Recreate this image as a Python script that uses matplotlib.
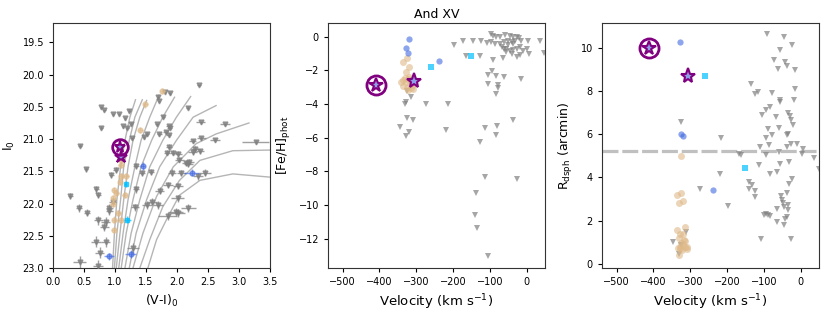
import matplotlib
matplotlib.use("Agg")
import matplotlib.pyplot as plt
import numpy as np

# ---- panel 1: CMD ----
# isochrones: (V-I)_0 at fixed I_0 levels, plus top point
iso_I = [23.0, 22.46, 21.94, 21.43, 21.02, 20.66]
iso_vi = [
    [0.96, 0.99, 1.03, 1.09, 1.16, 1.24, 1.33],
    [0.99, 1.03, 1.09, 1.14, 1.23, 1.32, 1.44],
    [1.02, 1.08, 1.14, 1.21, 1.29, 1.40, 1.51],
    [1.06, 1.13, 1.21, 1.32, 1.42, 1.56, 1.71],
    [1.10, 1.18, 1.29, 1.42, 1.59, 1.77, 1.96],
    [1.16, 1.26, 1.40, 1.56, 1.77, 1.99, 2.22],
    [1.23, 1.34, 1.51, 1.72, 1.99, 2.26, 2.63],
]
iso_top_I = [20.39, 20.39, 20.40, 20.32, 20.35, 20.34, 20.48]
# the three reddest isochrones bend over, so given as full point lists
red_iso_vi = [
    [1.29, 1.45, 1.67, 1.94, 2.31, 2.63, 3.16],
    [1.40, 1.56, 1.77, 2.04, 2.37, 2.90, 3.50],
    [1.53, 1.67, 1.83, 2.04, 2.37, 2.90, 3.50],
]
red_iso_I = [
    [23.0, 22.46, 21.89, 21.43, 21.07, 20.92, 20.75],
    [23.0, 22.56, 22.05, 21.64, 21.33, 21.18, 21.17],
    [23.0, 22.56, 22.25, 21.87, 21.64, 21.54, 21.59],
]

nm_vi = [2.35, 1.80, 1.88, 1.69, 1.71, 0.78, 0.83, 0.97, 1.06, 1.23, 1.16, 1.26, 0.78, 1.13, 1.20,
         2.17, 1.78, 1.67, 1.87, 1.88, 2.38, 2.77, 1.46, 1.52, 1.27, 1.71, 1.82, 1.87, 0.43, 2.25,
         2.39, 2.61, 3.27, 1.87, 1.84, 1.94, 2.02, 2.25, 2.37, 2.29, 2.04, 2.15, 2.20, 2.18, 0.53,
         1.34, 1.44, 1.58, 1.92, 2.07, 2.34, 2.45, 0.94, 1.01, 1.34, 1.72, 1.85, 2.01, 0.70, 0.73,
         0.28, 0.96, 1.51, 1.59, 1.69, 2.01, 0.91, 0.91, 1.32, 0.42, 0.55, 2.18, 1.98, 2.01, 1.85,
         0.73, 0.85, 0.83, 0.70, 0.85, 0.75, 1.29, 0.43, 0.73]
nm_I = [20.16, 20.27, 20.29, 20.35, 20.41, 20.50, 20.55, 20.61, 20.61, 20.56, 20.68, 20.76, 20.82, 20.80, 20.83,
        20.51, 20.66, 20.77, 20.80, 20.83, 20.74, 20.77, 20.97, 20.92, 20.99, 20.92, 20.89, 20.94, 21.10, 21.03,
        20.98, 21.01, 21.05, 21.12, 21.21, 21.21, 21.23, 21.20, 21.19, 21.15, 21.32, 21.37, 21.35, 21.39, 21.47,
        21.42, 21.53, 21.51, 21.52, 21.53, 21.58, 21.52, 21.56, 21.48, 21.78, 21.80, 21.71, 21.73, 21.78, 21.87,
        21.88, 21.97, 22.02, 21.97, 22.02, 21.92, 22.07, 22.12, 22.06, 22.07, 22.14, 22.07, 22.13, 22.15, 22.19,
        22.26, 22.28, 22.36, 22.59, 22.60, 22.76, 22.69, 22.91, 22.97]
nm_vi_err = [0.03, 0.02, 0.02, 0.02, 0.02, 0.02, 0.02, 0.02, 0.02, 0.02, 0.02, 0.02, 0.02, 0.02, 0.02,
             0.03, 0.03, 0.03, 0.04, 0.04, 0.07, 0.08, 0.03, 0.03, 0.03, 0.04, 0.04, 0.04, 0.03, 0.06,
             0.07, 0.08, 0.22, 0.05, 0.05, 0.06, 0.06, 0.08, 0.07, 0.07, 0.07, 0.07, 0.07, 0.07, 0.03,
             0.05, 0.05, 0.05, 0.07, 0.07, 0.08, 0.10, 0.04, 0.04, 0.05, 0.07, 0.08, 0.08, 0.04, 0.04,
             0.04, 0.05, 0.08, 0.08, 0.08, 0.10, 0.05, 0.05, 0.07, 0.05, 0.05, 0.12, 0.12, 0.12, 0.15,
             0.07, 0.07, 0.07, 0.08, 0.07, 0.08, 0.10, 0.10, 0.08]
nm_I_err = [0.02] * 22 + [0.03] * 11 + [0.04] * 12 + [0.05] * 16 + [0.06] * 14 + [0.07] * 3 + [0.08] * 4 + [0.09] * 2

rgb_vi = [1.76, 1.49, 1.41, 1.09, 1.09, 1.10, 1.08, 1.18, 0.99, 1.02, 0.97, 0.96, 1.16, 1.05, 1.09, 0.98, 0.99]
rgb_I = [20.25, 20.46, 20.86, 21.32, 21.40, 21.58, 21.66, 21.58, 21.79, 21.84, 21.92, 22.00, 21.87, 22.15, 22.25, 22.41, 22.25]
blue_vi = [1.45, 2.24, 0.91, 1.25]
blue_I = [21.42, 21.52, 22.82, 22.78]
blue_vi_err = [0.04, 0.12, 0.08, 0.09]
cyan_vi = [1.17, 1.20]
cyan_I = [21.70, 22.25]
cyan_vi_err = [0.03, 0.06]
star_vi, star_I = 1.09, 21.28
cstar_vi, cstar_I = 1.08, 21.12

# ---- panel 2: [Fe/H] vs velocity ----
nm_v2 = [-98, -91, -82, -71, -59, -45, -36, -27, -20, -14, 5, 36, 48,
         -123, -109, -98, -86, -73, -62, -50, -41, -36, -32, -50, -68, -62, -55, -45, -36, -27, -18, -11, 0, 7,
         -18, -27, -41, -55, -65, -91, -127, -165, -173, -198, -147,
         -105, -94, -82, -61, -105, -77, -79, -84, -16,
         -273, -215, -332, -327, -315, -325, -345, -325, -309, -329, -320, -220, -113, -80, -82, -38, -127,
         -114, -25, -138, -139, -134, -105]
nm_feh = [0.16, 0.06, 0.0, -0.04, 0.10, 0.06, -0.04, 0.0, -0.08, -0.28, -0.28, -0.28, -0.99,
          -0.28, -0.40, -0.34, -0.43, -0.43, -0.34, -0.24, -0.34, -0.43, -0.24, -0.53, -0.63, -0.73, -0.73, -0.83, -0.79, -0.73, -0.63, -0.83, -0.73, -1.03,
          -1.07, -1.23, -1.03, -0.93, -1.26, -1.38, -1.13, -1.13, -0.24, -0.53, -0.24,
          -2.31, -2.02, -2.37, -2.41, -2.81, -2.85, -3.04, -3.44, -2.55,
          -3.99, -4.03, -3.99, -3.89, -3.60, -3.24, -5.38, -4.82, -4.98, -5.93, -5.67, -5.57, -5.41, -5.34, -5.87, -4.98, -6.26,
          -8.34, -8.48, -9.29, -10.61, -11.40, -13.04]
rgb_v2 = [-325, -335, -321, -329, -332, -323, -329, -318, -335, -325, -314, -309, -320, -335, -314, -341, -323, -309]
rgb_feh = [-1.26, -1.52, -1.78, -2.11, -2.45, -2.51, -2.71, -2.81, -2.91, -3.04, -3.06, -3.10, -2.41, -2.61, -2.61, -2.71, -3.20, -2.90]
blue_v2 = [-320, -327, -323, -238]
blue_feh = [-0.14, -0.69, -0.97, -1.48]
cyan_v2 = [-259, -152]
cyan_feh = [-1.82, -1.17]
star_v, star_feh = -305, -2.65
cstar_v, cstar_feh = -409, -2.90

# ---- panel 3: R_dsph vs velocity ----
nm_v3 = [-91, -44, -23, -56, -73, -41, -38, -61, -14, -135, -125, -115, -79, -15, -18, -56, -56, -82, -94, -105,
         -34, -29, -66, -25, -20, -59, -89, -325, -36, -34, -95, -77, -216, -86, -109, -26, -9, -38, 7, 4,
         -59, -95, -168, -161, 36, 50, -32, -56, -114, -65, -82, -23, -32, -139, -220, -132, -139, -273, -125, -38,
         -53, -123, -50, -47, -34, -44, -64, -198, -35, -95, -89, -100, -82, -38, -41, -65, -44, -107, -25, -311,
         -347, -325, -330]
nm_r = [10.66, 10.51, 10.15, 9.92, 9.43, 9.35, 9.15, 9.00, 8.96, 8.35, 7.88, 7.96, 7.91, 8.11, 7.60, 7.57, 7.50, 7.26, 7.11, 6.88,
        6.99, 6.83, 6.80, 6.65, 6.41, 6.31, 6.26, 6.57, 5.95, 6.03, 5.84, 5.95, 5.84, 5.49, 5.41, 5.56, 5.53, 5.41, 5.33, 5.10,
        5.18, 5.02, 5.10, 5.02, 4.91, 4.40, 4.71, 4.60, 4.56, 4.25, 4.17, 3.94, 3.71, 3.79, 4.17, 3.63, 3.48, 3.48, 3.37, 3.28,
        3.12, 3.09, 2.94, 2.83, 2.74, 2.63, 2.55, 2.66, 2.47, 2.32, 2.24, 2.24, 2.19, 2.16, 2.09, 1.93, 1.78, 1.16, 1.13, 1.47,
        1.00, 0.85, 0.43]
rgb_v3 = [-326, -336, -325, -330, -321, -315, -335, -327, -321, -330, -318, -325, -334, -327, -315, -309, -323, -330, -321, -314, -327, -309]
rgb_r = [4.98, 3.17, 3.28, 2.81, 2.89, 1.70, 1.55, 1.39, 1.39, 1.21, 1.08, 0.97, 0.74, 0.77, 0.77, 0.77, 0.62, 0.39, 0.90, 1.05, 0.70, 0.70]
blue_v3 = [-327, -325, -321, -239]
blue_r = [10.28, 6.03, 5.90, 3.40]
cyan_v3 = [-261, -152]
cyan_r = [8.69, 4.44]
star_v3, star_r = -305, 8.69
cstar_v3, cstar_r = -411, 10.0
r_tidal = 5.2

grey = "gray"
tan = "burlywood"
blue = "royalblue"
cyan = "deepskyblue"
purple = "purple"
starfill = "#8fa0e8"

plt.rcParams["font.family"] = "DejaVu Sans"
fig = plt.figure(figsize=(8.3, 3.12), dpi=100)
ax1 = fig.add_axes([0.0639, 0.141, 0.2614, 0.785])
ax2 = fig.add_axes([0.3952, 0.141, 0.2614, 0.785])
ax3 = fig.add_axes([0.7253, 0.141, 0.2614, 0.785])


def special(ax, x, y, cx, cy, ms):
    ax.plot(x, y, "*", ms=ms, mfc=starfill, mec=purple, mew=1.5, zorder=6)
    ax.plot(cx, cy, "o", ms=ms * 1.25, mfc="none", mec=purple, mew=2, zorder=6)
    ax.plot(cx, cy, "*", ms=ms * 0.9, mfc=starfill, mec=purple, mew=1.5, zorder=6)


# panel 1
for vi, top in zip(iso_vi, iso_top_I):
    ax1.plot(vi, iso_I + [top], color="#b5b5b5", lw=1, zorder=1)
for vi, ii in zip(red_iso_vi, red_iso_I):
    ax1.plot(vi, ii, color="#b5b5b5", lw=1, zorder=1)
ax1.errorbar(nm_vi, nm_I, xerr=nm_vi_err, yerr=nm_I_err, fmt="v", color=grey, ms=3.5,
             alpha=0.75, elinewidth=1, zorder=3)
ax1.errorbar(rgb_vi, rgb_I, xerr=0.04, yerr=0.05, fmt="o", color=tan, ms=3.5,
             alpha=0.6, elinewidth=1, zorder=4)
ax1.errorbar(blue_vi, blue_I, xerr=blue_vi_err, yerr=0.06, fmt="o", color=blue, ms=3.5,
             alpha=0.6, elinewidth=1, zorder=4)
ax1.errorbar(cyan_vi, cyan_I, xerr=cyan_vi_err, yerr=0.05, fmt="s", color=cyan, ms=3.5,
             alpha=0.7, elinewidth=1, zorder=4)
special(ax1, star_vi, star_I, cstar_vi, cstar_I, 9)
ax1.set_xlim(0, 3.5)
ax1.set_ylim(23.0, 19.2)
ax1.set_yticks(np.arange(19.5, 23.01, 0.5))
ax1.set_xlabel("(V-I)$_0$", fontsize=9)
ax1.set_ylabel("I$_0$", fontsize=9)

# panel 2
ax2.plot(nm_v2, nm_feh, "v", color=grey, ms=4.5, alpha=0.7, mew=0)
ax2.plot(rgb_v2, rgb_feh, "o", color=tan, ms=5, alpha=0.6, mew=0)
ax2.plot(blue_v2, blue_feh, "o", color=blue, ms=4.5, alpha=0.6, mew=0)
ax2.plot(cyan_v2, cyan_feh, "s", color=cyan, ms=4.5, alpha=0.7, mew=0)
special(ax2, star_v, star_feh, cstar_v, cstar_feh, 11)
ax2.set_xlim(-540, 50)
ax2.set_ylim(-13.75, 0.8)
ax2.set_title("And XV", fontsize=9, pad=4)
ax2.set_xlabel("Velocity (km s$^{-1}$)", fontsize=9.5)
ax2.set_ylabel("[Fe/H]$_{\\rm phot}$", fontsize=9)

# panel 3
ax3.axhline(r_tidal, color="#c0c0c0", ls="--", lw=2.3, dashes=(5, 1.2), zorder=1)
ax3.plot(nm_v3, nm_r, "v", color=grey, ms=4.5, alpha=0.7, mew=0)
ax3.plot(rgb_v3, rgb_r, "o", color=tan, ms=5, alpha=0.6, mew=0)
ax3.plot(blue_v3, blue_r, "o", color=blue, ms=4.5, alpha=0.6, mew=0)
ax3.plot(cyan_v3, cyan_r, "s", color=cyan, ms=4.5, alpha=0.7, mew=0)
special(ax3, star_v3, star_r, cstar_v3, cstar_r, 11)
ax3.set_xlim(-540, 50)
ax3.set_ylim(-0.2, 11.15)
ax3.set_xlabel("Velocity (km s$^{-1}$)", fontsize=9.5)
ax3.set_ylabel("R$_{\\rm dsph}$ (arcmin)", fontsize=9)

for ax in (ax1, ax2, ax3):
    ax.tick_params(labelsize=7, length=3)
    for s in ax.spines.values():
        s.set_color("#333333")

fig.savefig("out.png", dpi=100)
plt.close(fig)
